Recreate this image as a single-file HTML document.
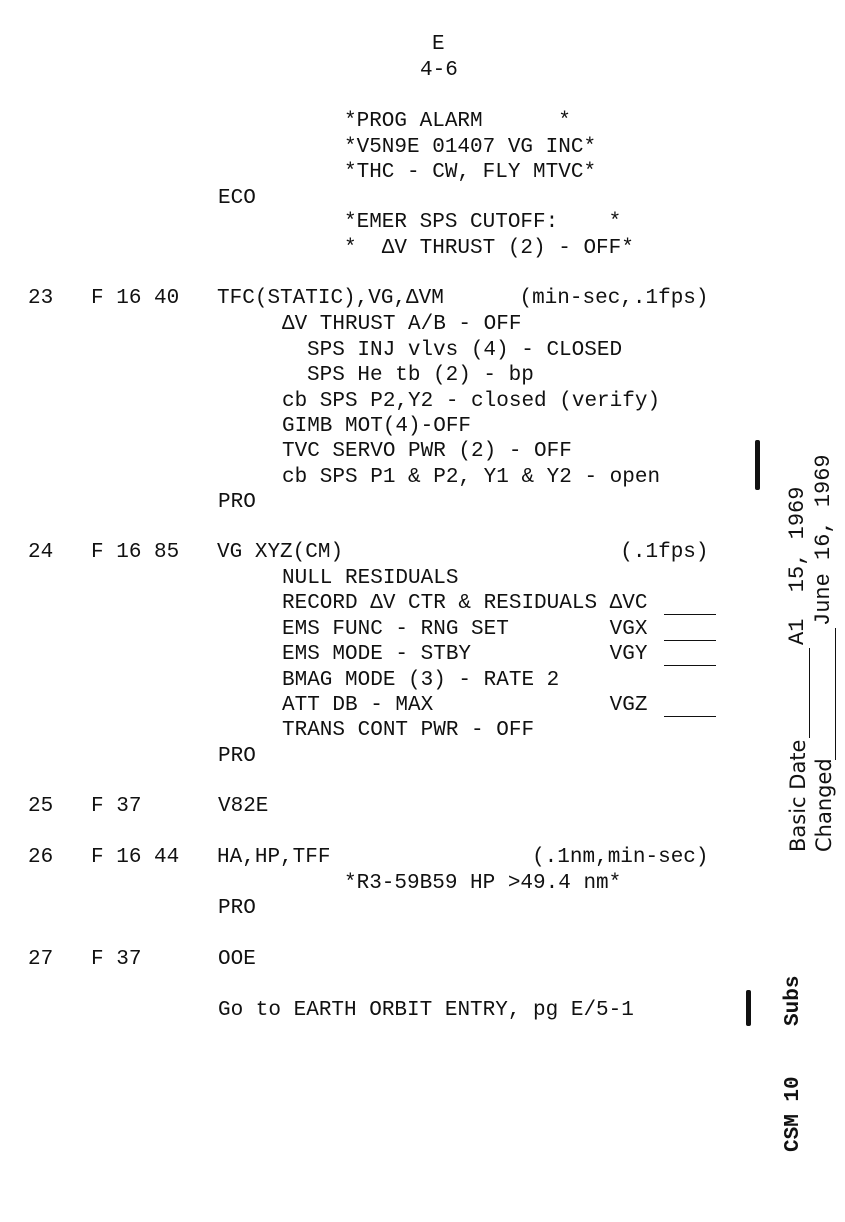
<!DOCTYPE html>
<html><head><meta charset="utf-8"><style>
body{margin:0;background:#fff;}
#p{position:relative;width:845px;height:1222px;overflow:hidden;background:#fff;color:#111;font-family:"Liberation Mono","DejaVu Sans Mono",monospace;font-size:21px;}
.t{position:absolute;white-space:pre;line-height:24px;}
.r{position:absolute;white-space:pre;font-family:"DejaVu Sans","Liberation Sans",sans-serif;font-size:21px;line-height:26px;transform:rotate(-90deg);transform-origin:0 0;}
.u{position:absolute;height:0;border-top:1.5px solid #111;}
.v{position:absolute;width:0;border-left:1.5px solid #111;}
.b{position:absolute;background:#111;width:5px;border-radius:2px;}
</style></head><body><div id="p">
<div class="t" style="left:432px;top:33px">E</div>
<div class="t" style="left:420px;top:59px">4-6</div>
<div class="t" style="left:344px;top:110px">*PROG ALARM      *</div>
<div class="t" style="left:344px;top:136px">*V5N9E 01407 VG INC*</div>
<div class="t" style="left:344px;top:161px">*THC - CW, FLY MTVC*</div>
<div class="t" style="left:218px;top:187px">ECO</div>
<div class="t" style="left:344px;top:211px">*EMER SPS CUTOFF:    *</div>
<div class="t" style="left:344px;top:237px">*  ΔV THRUST (2) - OFF*</div>

<div class="t" style="left:28px;top:287px">23   F 16 40   TFC(STATIC),VG,ΔVM      (min-sec,.1fps)</div>
<div class="t" style="left:282px;top:313px">ΔV THRUST A/B - OFF</div>
<div class="t" style="left:307px;top:339px">SPS INJ vlvs (4) - CLOSED</div>
<div class="t" style="left:307px;top:364px">SPS He tb (2) - bp</div>
<div class="t" style="left:282px;top:390px">cb SPS P2,Y2 - closed (verify)</div>
<div class="t" style="left:282px;top:415px">GIMB MOT(4)-OFF</div>
<div class="t" style="left:282px;top:440px">TVC SERVO PWR (2) - OFF</div>
<div class="t" style="left:282px;top:466px">cb SPS P1 &amp; P2, Y1 &amp; Y2 - open</div>
<div class="t" style="left:218px;top:491px">PRO</div>

<div class="t" style="left:28px;top:541px">24   F 16 85   VG XYZ(CM)                      (.1fps)</div>
<div class="t" style="left:282px;top:567px">NULL RESIDUALS</div>
<div class="t" style="left:282px;top:592px">RECORD ΔV CTR &amp; RESIDUALS ΔVC</div>
<div class="t" style="left:282px;top:618px">EMS FUNC - RNG SET        VGX</div>
<div class="t" style="left:282px;top:643px">EMS MODE - STBY           VGY</div>
<div class="t" style="left:282px;top:669px">BMAG MODE (3) - RATE 2</div>
<div class="t" style="left:282px;top:694px">ATT DB - MAX              VGZ</div>
<div class="t" style="left:282px;top:719px">TRANS CONT PWR - OFF</div>
<div class="t" style="left:218px;top:745px">PRO</div>
<div class="u" style="left:664px;top:614px;width:52px"></div>
<div class="u" style="left:664px;top:640px;width:52px"></div>
<div class="u" style="left:664px;top:665px;width:52px"></div>
<div class="u" style="left:664px;top:716px;width:52px"></div>

<div class="t" style="left:28px;top:795px">25   F 37</div>
<div class="t" style="left:218px;top:795px">V82E</div>
<div class="t" style="left:28px;top:846px">26   F 16 44   HA,HP,TFF                (.1nm,min-sec)</div>
<div class="t" style="left:344px;top:872px">*R3-59B59 HP &gt;49.4 nm*</div>
<div class="t" style="left:218px;top:897px">PRO</div>
<div class="t" style="left:28px;top:948px">27   F 37</div>
<div class="t" style="left:218px;top:948px">OOE</div>
<div class="t" style="left:218px;top:999px">Go to EARTH ORBIT ENTRY, pg E/5-1</div>

<div class="b" style="left:755px;top:440px;height:50px"></div>
<div class="b" style="left:746px;top:990px;height:36px"></div>

<div class="r" style="left:785px;top:852px">Basic Date</div>
<div class="v" style="left:809px;top:648px;height:90px"></div>
<div class="r" style="left:785px;top:645px;font-family:'Liberation Mono',monospace;font-size:22px;">A1  15, 1969</div>
<div class="r" style="left:811px;top:852px">Changed</div>
<div class="v" style="left:835px;top:628px;height:132px"></div>
<div class="r" style="left:811px;top:626px;font-family:'Liberation Mono',monospace;font-size:22px;">June 16, 1969</div>
<div class="r" style="left:781px;top:1152px;font-family:'Liberation Mono',monospace;font-weight:bold;font-size:21px;">CSM 10    Subs</div>
</div></body></html>
